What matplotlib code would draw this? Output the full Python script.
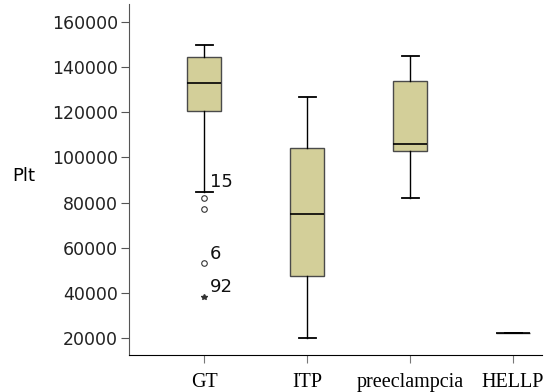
# Plt boxplot by group

import matplotlib
matplotlib.use("Agg")
import matplotlib.pyplot as plt

groups = ["GT", "ITP", "preeclampcia", "HELLP"]
whislo = [84700, 20000, 82000, 22200]
q1 = [120600, 47500, 102800, 22200]
med = [133000, 74900, 106000, 22200]
q3 = [144500, 104200, 133900, 22200]
whishi = [149800, 126800, 144900, 22200]

# outliers of GT (circles) and extreme (star)
gt_out = [81900, 77000, 53100]
gt_extreme = [38300]
out_labels = [("15", 84700), ("6", 53100), ("92", 38300)]

box_color = "#D3CF99"

fig = plt.figure(figsize=(5.53, 3.92), dpi=100)
ax = fig.add_axes([0.2333, 0.0944, 0.7467, 0.8954])

stats = []
for i, g in enumerate(groups):
    stats.append(dict(label=g, whislo=whislo[i], q1=q1[i], med=med[i],
                      q3=q3[i], whishi=whishi[i], fliers=[]))

ax.bxp(stats, positions=range(1, len(groups) + 1), widths=0.33,
       capwidths=0.165, patch_artist=True, showfliers=False,
       boxprops=dict(facecolor=box_color, edgecolor="#4a4a4a", linewidth=1.0),
       medianprops=dict(color="black", linewidth=1.2),
       whiskerprops=dict(color="black", linewidth=1.0),
       capprops=dict(color="black", linewidth=1.3))

ax.plot([1] * len(gt_out), gt_out, linestyle="none", marker="o", ms=4,
        mfc="white", mec="#333333", mew=0.8)
ax.plot([1] * len(gt_extreme), gt_extreme, linestyle="none", marker="*",
        ms=4, color="#333333")

for txt, v in out_labels:
    ax.text(1.06, v + 300, txt, fontsize=13, ha="left", va="bottom",
            family="DejaVu Sans", color="#111111")

ax.set_xlim(0.272, 4.28)
ax.set_ylim(12470, 168000)
ax.set_yticks(range(20000, 160001, 20000))
ax.set_yticklabels([str(v) for v in range(20000, 160001, 20000)],
                   fontsize=12.5, family="DejaVu Sans", color="#222222")
ax.set_xticks(range(1, len(groups) + 1))
ax.set_xticklabels(groups, fontsize=14.5, family="Liberation Serif")
ax.tick_params(axis="y", length=6, width=0.8, color="#555555", pad=2)
ax.tick_params(axis="x", length=6, width=0.8, color="#777777", pad=7)

ax.spines["top"].set_visible(False)
ax.spines["right"].set_visible(False)
ax.spines["left"].set_color("#555555")
ax.spines["bottom"].set_color("black")

fig.text(12 / 553, 1 - 176 / 392, "Plt", fontsize=13, ha="left", va="center",
         family="DejaVu Sans")

fig.savefig("out.png", dpi=100)
